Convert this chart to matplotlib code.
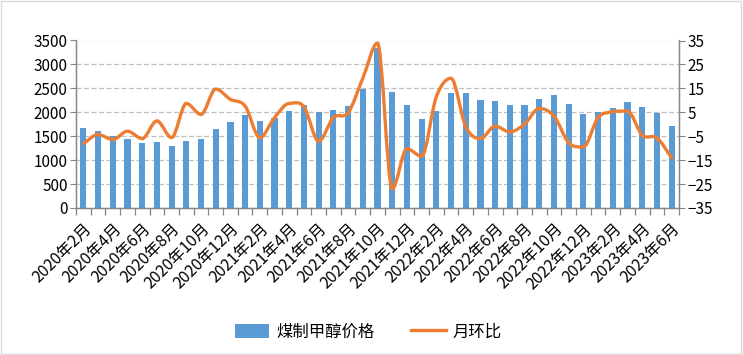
import numpy as np
import matplotlib
matplotlib.use("Agg")
import matplotlib.pyplot as plt
from matplotlib.path import Path
from matplotlib.patches import PathPatch, Rectangle

plt.rcParams["font.family"] = ["Noto Sans CJK SC", "DejaVu Sans"]

# ── data ──────────────────────────────────────────────────────────────────────
months = [f"{y}年{m}月" for y in (2020, 2021, 2022, 2023) for m in range(1, 13)]
months = months[1:42]          # 2020年2月 … 2023年6月

price = [1665, 1603, 1505, 1435, 1351, 1372, 1288, 1393, 1435, 1645,
         1792, 1939, 1813, 1890, 2023, 2149, 2002, 2044, 2128, 2492,
         3350, 2422, 2149, 1855, 2023, 2401, 2401, 2254, 2233, 2149,
         2149, 2275, 2359, 2170, 1960, 2009, 2086, 2212, 2107, 1988,
         1708]

mom = [-8.1, -4.3, -6.4, -2.9, -6.0, 1.4, -5.6, 8.7, 4.1, 14.7,
       10.4, 7.6, -5.6, 2.8, 8.7, 7.3, -7.1, 2.8, 4.8, 19.2,
       33.9, -27.0, -10.2, -13.4, 11.5, 19.2, -1.0, -6.0, -0.8, -3.2,
       0.1, 6.6, 3.4, -7.7, -9.5, 2.8, 5.2, 5.5, -4.6, -5.7,
       -14.0]

BAR_COLOR = "#5B9BD5"
LINE_COLOR = "#ED7D31"
AXIS_COLOR = "#868686"


def smooth_path(xs, ys):
    # smoothed line as cubic Bezier through every point; flat tangent at
    # local peaks/troughs so the curve does not overshoot them
    xs, ys = np.asarray(xs, float), np.asarray(ys, float)
    n = len(xs)
    m = np.zeros(n)
    for i in range(n):
        lo, hi = max(i - 1, 0), min(i + 1, n - 1)
        if 0 < i < n - 1 and (ys[i] - ys[lo]) * (ys[hi] - ys[i]) <= 0:
            m[i] = 0.0
        else:
            m[i] = (ys[hi] - ys[lo]) / (xs[hi] - xs[lo])
    verts = [(xs[0], ys[0])]
    codes = [Path.MOVETO]
    for i in range(n - 1):
        dx = (xs[i + 1] - xs[i]) / 3
        verts += [(xs[i] + dx, ys[i] + m[i] * dx),
                  (xs[i + 1] - dx, ys[i + 1] - m[i + 1] * dx),
                  (xs[i + 1], ys[i + 1])]
        codes += [Path.CURVE4] * 3
    return Path(verts, codes)


fig = plt.figure(figsize=(7.43, 3.55), dpi=100)
ax = fig.add_axes([76 / 743, 1 - 208 / 355, (679 - 76) / 743, (208 - 40.5) / 355])
ax2 = ax.twinx()

x = np.arange(len(months))
ax.bar(x, price, width=0.42, color=BAR_COLOR, label="煤制甲醇价格", zorder=2)
ax.set_ylim(0, 3500)
ax.set_yticks(np.arange(0, 3501, 500))
ax.yaxis.grid(True, color="#BFBFBF", linestyle=(0, (4, 2)), lw=0.9, zorder=0)
ax.set_axisbelow(True)
ax.set_xlim(-0.5, len(months) - 0.5)

ax.set_xticks(x[::2])
ax.set_xticklabels(months[::2], rotation=45, ha="right", va="top",
                   rotation_mode="anchor", fontsize=11.5)
ax.set_xticks(np.arange(-0.5, len(months)), minor=True)
ax.tick_params(axis="x", which="major", length=0, pad=9)
ax.tick_params(axis="x", which="minor", length=5, color=AXIS_COLOR, width=0.9)
ax.tick_params(axis="y", length=4, color=AXIS_COLOR, labelsize=11, pad=2)

ax2.add_patch(PathPatch(smooth_path(x, mom), fill=False, edgecolor=LINE_COLOR,
                        lw=2.4, capstyle="round", joinstyle="round", zorder=3,
                        clip_on=False))
ax2.plot([], [], color=LINE_COLOR, lw=2.4, label="月环比")
ax2.set_ylim(-35, 35)
ax2.set_yticks(np.arange(-35, 36, 10))
ax2.tick_params(axis="y", length=4, color=AXIS_COLOR, labelsize=11, pad=2)

for a in (ax, ax2):
    a.spines["top"].set_visible(False)
    for s in ("left", "right", "bottom"):
        a.spines[s].set_color(AXIS_COLOR)
        a.spines[s].set_linewidth(0.9)

h1, l1 = ax.get_legend_handles_labels()
h2, l2 = ax2.get_legend_handles_labels()
fig.legend(h1 + h2, l1 + l2, loc="center", bbox_to_anchor=(0.496, 1 - 332 / 355),
           ncol=2, frameon=False, fontsize=11.8, handlelength=2.1,
           handleheight=0.9, columnspacing=2.2, handletextpad=0.45)

fig.patches.append(Rectangle((0.002, 0.003), 0.995, 0.993, transform=fig.transFigure,
                             fill=False, edgecolor="#D9D9D9", lw=1))

fig.savefig("out.png", dpi=100)
